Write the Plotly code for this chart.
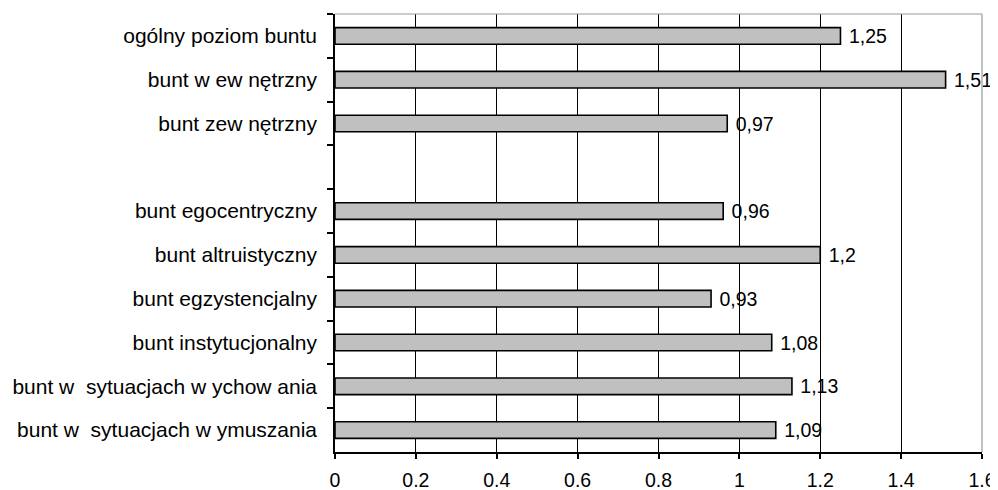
import plotly.graph_objects as go

categories = [
    "ogólny poziom buntu",
    "bunt w ew nętrzny",
    "bunt zew nętrzny",
    " ",
    "bunt egocentryczny",
    "bunt altruistyczny",
    "bunt egzystencjalny",
    "bunt instytucjonalny",
    "bunt w  sytuacjach w ychow ania",
    "bunt w  sytuacjach w ymuszania",
]
values = [1.25, 1.51, 0.97, None, 0.96, 1.2, 0.93, 1.08, 1.13, 1.09]
labels = ["" if v is None else " " + str(v).replace(".", ",") for v in values]
x_ticks = [0, 0.2, 0.4, 0.6, 0.8, 1, 1.2, 1.4, 1.6]

FONT = "Arial, Liberation Sans, sans-serif"

fig = go.Figure(go.Bar(
    y=categories,
    x=values,
    orientation="h",
    marker=dict(color="#C0C0C0", line=dict(color="black", width=1.6)),
    text=labels,
    textposition="outside",
    constraintext="none",
    textfont=dict(family=FONT, size=19.5, color="black"),
    cliponaxis=False,
))

fig.update_layout(
    width=990, height=482,
    margin=dict(l=327, r=16, t=6, b=38),
    paper_bgcolor="white", plot_bgcolor="white",
    bargap=0.62,
    showlegend=False,
    font=dict(family=FONT, size=20, color="black"),
    xaxis=dict(
        range=[0, 1.6], tickvals=x_ticks, ticktext=[str(t) for t in x_ticks],
        showgrid=True, gridcolor="black", gridwidth=1,
        showline=True, linecolor="black", linewidth=1.5,
        ticks="outside", ticklen=5, tickcolor="black", tickwidth=1.5,
        zeroline=False, fixedrange=True, automargin=False,
        tickfont=dict(size=19.5),
        ticklabelstandoff=5,
    ),
    yaxis=dict(
        categoryorder="array", categoryarray=categories, autorange="reversed",
        type="category",
        showline=True, linecolor="black", linewidth=1.5,
        ticks="outside", ticklen=6, tickcolor="black", tickwidth=1.5,
        tickson="boundaries", showgrid=False, zeroline=False,
        ticklabelstandoff=12, automargin=False,
        tickfont=dict(size=21),
    ),
    shapes=[
        dict(type="line", xref="paper", yref="paper", x0=0, x1=1, y0=1, y1=1,
             line=dict(color="#999999", width=1.2)),
        dict(type="line", xref="paper", yref="paper", x0=1, x1=1, y0=0, y1=1,
             line=dict(color="#999999", width=1.2)),
    ],
)

fig.write_html("out.html")
